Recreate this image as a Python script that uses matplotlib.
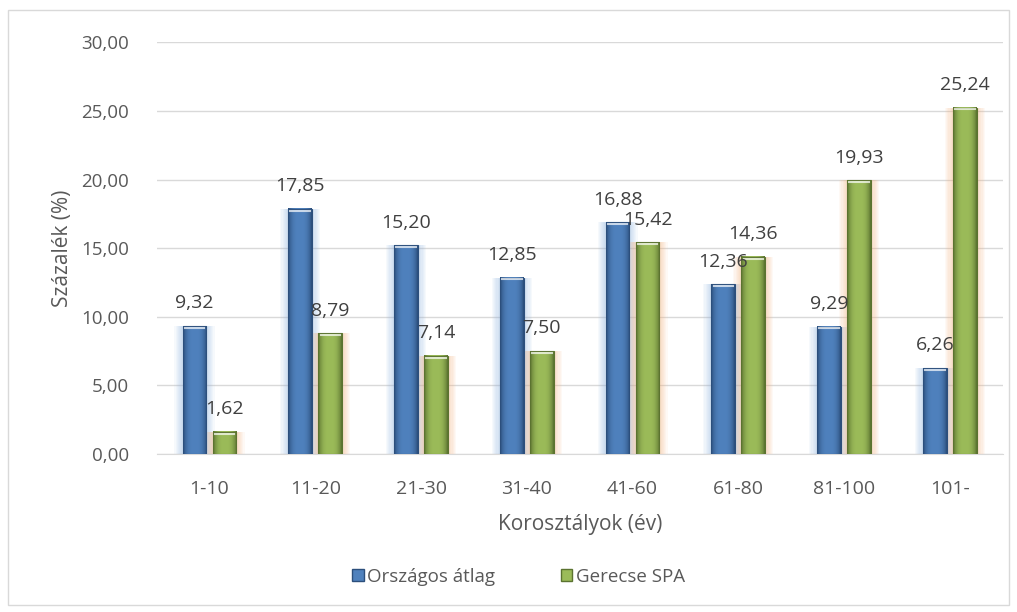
import matplotlib
matplotlib.use("Agg")
from matplotlib import pyplot as plt
from matplotlib.patches import Rectangle
import matplotlib.colors as mcolors
import numpy as np

# Adatok
korosztalyok = ['1-10', '11-20', '21-30', '31-40', '41-60', '61-80', '81-100', '101-']
orszagos = [9.32, 17.85, 15.20, 12.85, 16.88, 12.36, 9.29, 6.26]
gerecse = [1.62, 8.79, 7.14, 7.50, 15.42, 14.36, 19.93, 25.24]

plt.rcParams['font.family'] = ['Open Sans', 'DejaVu Sans']
szurke = '#595959'

fig = plt.figure(figsize=(10.17, 6.12), dpi=100)
fig.patches.append(Rectangle((8 / 1017, 7 / 612), 1001 / 1017, 595 / 612,
                             transform=fig.transFigure, fill=False,
                             edgecolor='#D9D9D9', linewidth=1))
ax = fig.add_axes([0.154, 0.258, 0.832, 0.673])

x = np.arange(len(korosztalyok))
w = 0.225
off = 0.142


def fancy_bars(xpos, vals, base, edge, glow):
    # halvany ragyogas a hasab korul
    for k in range(7):
        ax.bar(xpos, vals, w + 0.022 * (k + 1), color=glow, alpha=0.07,
               linewidth=0, zorder=2)
    c = np.array(mcolors.to_rgb(base))
    d = np.array(mcolors.to_rgb(edge))
    t = np.linspace(-1, 1, 40)
    f = np.abs(t) ** 3
    grad = (c[None, :] * (1 - f[:, None]) + d[None, :] * f[:, None])[None, :, :]
    for xi, v in zip(xpos, vals):
        ax.imshow(grad, extent=(xi - w / 2, xi + w / 2, 0, v), aspect='auto',
                  zorder=3, interpolation='bilinear')
        ax.add_patch(Rectangle((xi - w / 2, 0), w, v, fill=False,
                               edgecolor=edge, linewidth=0.8, zorder=4))
        ax.plot([xi - w / 2 + 0.02, xi + w / 2 - 0.02], [v - 0.12, v - 0.12],
                color='white', alpha=0.7, linewidth=1.5, zorder=5)
        ax.text(xi, v + 1.0, f'{v:.2f}'.replace('.', ','), ha='center',
                va='bottom', fontsize=14, color='#404040', zorder=6)


fancy_bars(x - off, orszagos, '#4F81BD', '#2C4F7C', '#8DB3E2')
fancy_bars(x + off, gerecse, '#9BBB59', '#5B7330', '#F8B27A')

ax.set_xlim(-0.5, len(korosztalyok) - 0.5)
ax.set_ylim(0, 30)
ax.set_yticks(np.arange(0, 30.1, 5))
ax.set_yticklabels([f'{v:.2f}'.replace('.', ',') for v in np.arange(0, 30.1, 5)])
ax.set_xticks(x)
ax.set_xticklabels(korosztalyok)
ax.tick_params(axis='both', length=0, colors=szurke)
ax.tick_params(axis='y', labelsize=13.5, pad=20)
ax.tick_params(axis='x', labelsize=14, pad=19)
ax.grid(axis='y', color='#D9D9D9', linewidth=1, zorder=0)
ax.set_axisbelow(True)
for s in ['top', 'right', 'left']:
    ax.spines[s].set_visible(False)
ax.spines['bottom'].set_color('#D9D9D9')

ax.set_xlabel('Korosztályok (év)', fontsize=15, color=szurke, labelpad=11)
ax.set_ylabel('Százalék (%)', fontsize=15, color=szurke, labelpad=6)

h1 = Rectangle((0, 0), 1, 1, facecolor='#4F81BD', edgecolor='#2C4F7C')
h2 = Rectangle((0, 0), 1, 1, facecolor='#9BBB59', edgecolor='#5B7330')
fig.legend([h1, h2], ['Országos átlag', 'Gerecse SPA'], loc='center',
           bbox_to_anchor=(0.51, 0.058), ncol=2, frameon=False, fontsize=13.5,
           handlelength=0.6, handleheight=0.6, handletextpad=0.2,
           columnspacing=3.5, labelcolor=szurke)

fig.savefig('out.png', dpi=100)
